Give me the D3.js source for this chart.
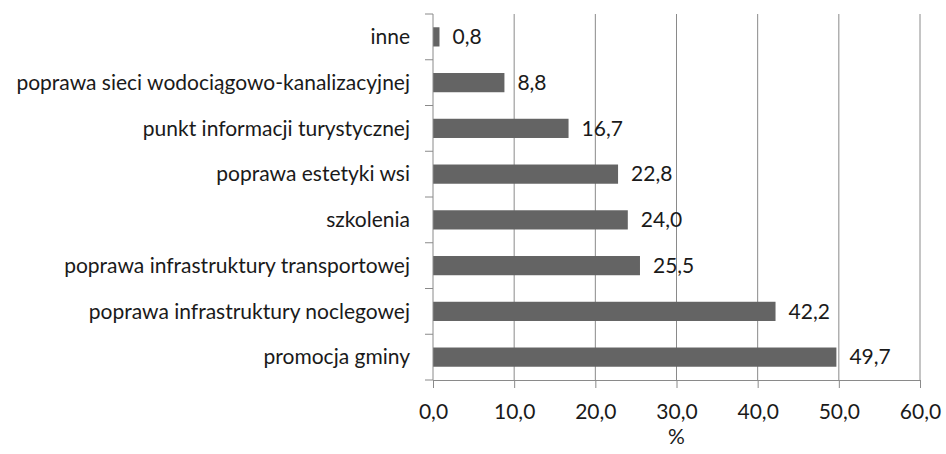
<!DOCTYPE html>
<html>
<head>
<meta charset="utf-8">
<script src="https://cdn.jsdelivr.net/npm/d3@7"></script>
<style>
  body { margin: 0; background: #fff; }
  svg text { font-family: Lato, "Open Sans", sans-serif; fill: #1a1a1a; }
</style>
</head>
<body>
<div id="chart"></div>
<script>
var categories = ["inne", "poprawa sieci wodociągowo-kanalizacyjnej", "punkt informacji turystycznej",
  "poprawa estetyki wsi", "szkolenia ", "poprawa infrastruktury transportowej",
  "poprawa infrastruktury noclegowej", "promocja gminy"];
var values = [0.8, 8.8, 16.7, 22.8, 24.0, 25.5, 42.2, 49.7];
var xTicks = [0, 10, 20, 30, 40, 50, 60];
var axisTitle = "%";

var width = 946, height = 454,
  margin = {top: 14, right: 26, bottom: 74, left: 433};
var fontSize = "21px";

var svg = d3.select("#chart").append("svg")
  .attr("width", width)
  .attr("height", height);

var fmt = function(v){ return d3.format(".1f")(v).replace(".", ","); };

var x = d3.scaleLinear()
  .domain([0, 60])
  .range([margin.left, width - margin.right]);

var y = d3.scaleBand()
  .domain(categories)
  .range([margin.top, height - margin.bottom])
  .paddingInner(0.58)
  .paddingOuter(0.29);

// gridlines
svg.append("g").selectAll("line")
  .data(xTicks.slice(1))
  .enter().append("line")
  .attr("x1", function(d){ return x(d); })
  .attr("x2", function(d){ return x(d); })
  .attr("y1", margin.top)
  .attr("y2", height - margin.bottom)
  .attr("stroke", "#8a8a8a")
  .attr("stroke-width", 1);

// bars
svg.append("g").selectAll("rect")
  .data(values)
  .enter().append("rect")
  .attr("x", x(0))
  .attr("y", function(d, i){ return y(categories[i]); })
  .attr("width", function(d){ return x(d) - x(0); })
  .attr("height", y.bandwidth())
  .attr("fill", "#646464");

// value labels
svg.append("g").selectAll("text")
  .data(values)
  .enter().append("text")
  .attr("x", function(d){ return x(d) + 13; })
  .attr("y", function(d, i){ return y(categories[i]) + y.bandwidth() / 2; })
  .attr("dy", "0.35em")
  .style("font-size", fontSize)
  .text(fmt);

// y axis (category ticks between bands)
var yAxis = svg.append("g").attr("transform", "translate(" + x(0) + ",0)");
var bounds = d3.range(categories.length + 1).map(function(i){ return margin.top + i * (height - margin.top - margin.bottom) / categories.length; });
yAxis.append("line")
  .attr("x1", 0).attr("x2", 0)
  .attr("y1", margin.top).attr("y2", height - margin.bottom)
  .attr("stroke", "#8a8a8a");
yAxis.selectAll("line.tk")
  .data(bounds)
  .enter().append("line")
  .attr("class", "tk")
  .attr("x1", -8).attr("x2", 0)
  .attr("y1", function(d){ return d; })
  .attr("y2", function(d){ return d; })
  .attr("stroke", "#8a8a8a");
yAxis.selectAll("text")
  .data(categories)
  .enter().append("text")
  .attr("x", -23)
  .attr("y", function(d){ return y(d) + y.bandwidth() / 2; })
  .attr("dy", "0.35em")
  .attr("text-anchor", "end")
  .style("font-size", fontSize)
  .text(function(d){ return d; });

// x axis
var xAxis = svg.append("g")
  .attr("transform", "translate(0," + (height - margin.bottom) + ")")
  .call(d3.axisBottom(x).tickValues(xTicks).tickSize(8).tickFormat(fmt));
xAxis.select(".domain").attr("stroke", "#8a8a8a");
xAxis.selectAll(".tick line").attr("stroke", "#8a8a8a");
xAxis.selectAll(".tick text")
  .attr("y", 24)
  .attr("fill", "#1a1a1a")
  .style("font-family", "Lato, sans-serif")
  .style("font-size", fontSize);

svg.append("text")
  .attr("x", (x(0) + x(60)) / 2)
  .attr("y", height - 10)
  .attr("text-anchor", "middle")
  .style("font-size", fontSize)
  .text(axisTitle);
</script>
</body>
</html>
